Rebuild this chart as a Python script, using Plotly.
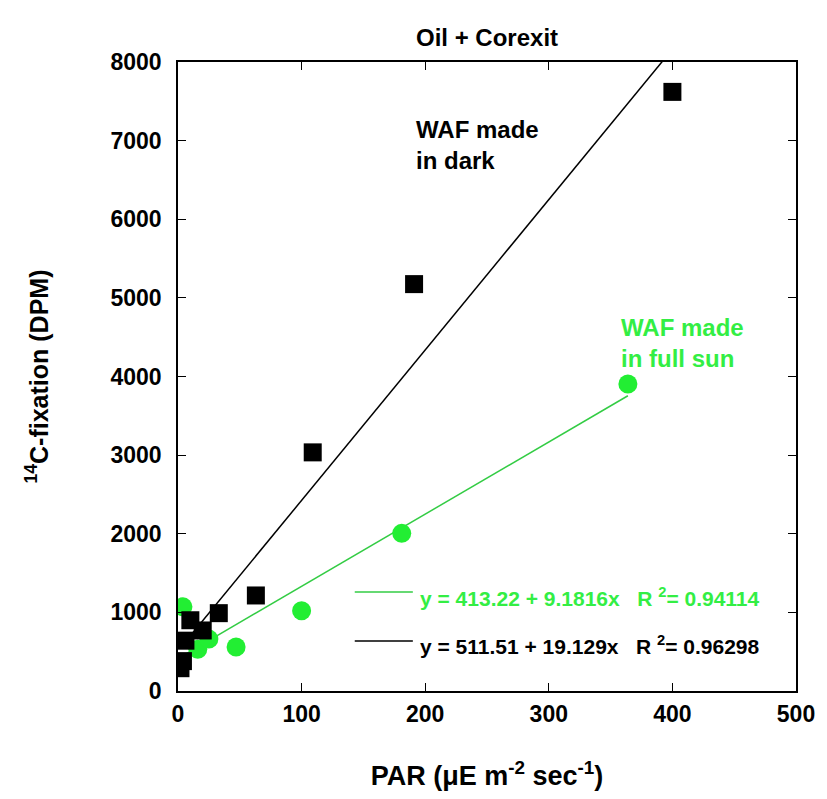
import plotly.graph_objects as go

# Data
dark_par = [2, 4, 6, 10, 20, 33, 63, 109, 191, 400]
dark_c14 = [290, 380, 640, 900, 770, 990, 1215, 3035, 5175, 7620]

sun_par = [1, 4, 16, 25, 47, 100, 181, 364]
sun_c14 = [320, 1070, 530, 660, 560, 1020, 2005, 3905]

dark_fit = (511.51, 19.129)
sun_fit = (413.22, 9.1816)

GREEN_MK = "#22EE33"
GREEN_LN = "#33CC44"
GREEN_TX = "#33EE44"
FONT = "Liberation Sans, Arial, sans-serif"

fig = go.Figure()

# regression lines
dx = [min(dark_par), max(dark_par)]
fig.add_trace(go.Scatter(x=dx, y=[dark_fit[0] + dark_fit[1] * v for v in dx],
                         mode="lines", line=dict(color="black", width=1.5),
                         showlegend=False, hoverinfo="skip"))
sx = [min(sun_par), max(sun_par)]
fig.add_trace(go.Scatter(x=sx, y=[sun_fit[0] + sun_fit[1] * v for v in sx],
                         mode="lines", line=dict(color=GREEN_LN, width=1.5),
                         showlegend=False, hoverinfo="skip"))

fig.add_trace(go.Scatter(x=sun_par, y=sun_c14, mode="markers",
                         marker=dict(symbol="circle", size=19, color=GREEN_MK),
                         showlegend=False))
fig.add_trace(go.Scatter(x=dark_par, y=dark_c14, mode="markers",
                         marker=dict(symbol="square", size=18, color="black"),
                         showlegend=False))

axis_common = dict(showline=True, linecolor="black", linewidth=1.5, mirror="ticks",
                   ticks="inside", ticklen=8, tickcolor="black", tickwidth=1,
                   showgrid=False, zeroline=False, ticklabeloverflow="allow",
                   tickfont=dict(family=FONT, size=23, color="black", weight="bold"))

fig.update_xaxes(range=[0, 500], tickvals=[0, 100, 200, 300, 400, 500],
                 title=dict(text="PAR (μE m<sup>-2</sup> sec<sup>-1</sup>)",
                            font=dict(family=FONT, size=27, color="black", weight="bold"),
                            standoff=40),
                 ticklabelstandoff=2, **axis_common)
fig.update_yaxes(range=[0, 8000], tickvals=list(range(0, 8001, 1000)),
                 title=dict(text="<sup>14</sup>C-fixation (DPM)",
                            font=dict(family=FONT, size=25, color="black", weight="bold"),
                            standoff=55),
                 ticklabelstandoff=10, **axis_common)

ann = []
ann.append(dict(x=0.5, xref="paper", y=1.0, yref="paper", yshift=40, text="Oil + Corexit",
                showarrow=False,
                font=dict(family=FONT, size=24, color="black", weight="bold")))
ann.append(dict(x=191, y=7340, text="WAF made<br>in dark", showarrow=False, xanchor="left",
                yanchor="top", align="left",
                font=dict(family=FONT, size=24, color="black", weight="bold")))
ann.append(dict(x=357, y=4822, text="WAF made<br>in full sun", showarrow=False, xanchor="left",
                yanchor="top", align="left",
                font=dict(family=FONT, size=24, color=GREEN_TX, weight="bold")))
ann.append(dict(x=194, y=1200, text="y = 413.22 + 9.1816x   R <sup>2</sup>= 0.94114", showarrow=False,
                xanchor="left", yanchor="middle",
                font=dict(family=FONT, size=21, color=GREEN_TX, weight="bold")))
ann.append(dict(x=194, y=585, text="y = 511.51 + 19.129x   R <sup>2</sup>= 0.96298", showarrow=False,
                xanchor="left", yanchor="middle",
                font=dict(family=FONT, size=21, color="black", weight="bold")))

shapes = [
    dict(type="line", x0=143, x1=190, y0=1260, y1=1260, line=dict(color=GREEN_LN, width=1.5)),
    dict(type="line", x0=143, x1=190, y0=636, y1=636, line=dict(color="black", width=1.5)),
]

fig.update_layout(width=827, height=799, margin=dict(l=178, r=21, t=62, b=108),
                  plot_bgcolor="white", paper_bgcolor="white",
                  annotations=ann, shapes=shapes, showlegend=False,
                  font=dict(family=FONT))

fig.write_html("out.html")
